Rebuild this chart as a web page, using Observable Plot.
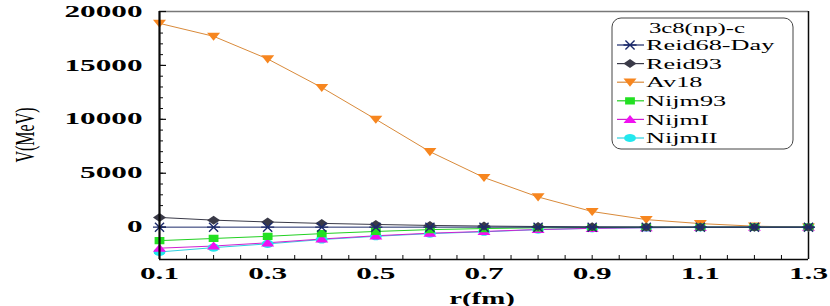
<!DOCTYPE html>
<html><head><meta charset="utf-8">
<script src="https://cdn.jsdelivr.net/npm/d3@7"></script>
<script src="https://cdn.jsdelivr.net/npm/@observablehq/plot@0.6"></script>
<style>html,body{margin:0;padding:0;background:#fff;}</style>
</head><body><div id="chart"></div>
<script>
// ---- data ----
const rValues = [0.1,0.2,0.3,0.4,0.5,0.6,0.7,0.8,0.9,1.0,1.1,1.2,1.3];
const reid68Day = [0,0,0,0,0,0,0,0,0,0,0,0,0];
const reid93 = [900,650,480,350,250,160,100,60,30,15,5,0,0];
const av18 = [18900,17700,15600,12950,10000,7000,4600,2800,1450,700,330,90,0];
const nijm93 = [-1250,-1050,-850,-600,-400,-230,-130,-60,-30,-10,0,0,0];
const nijmI = [-1950,-1750,-1450,-1100,-800,-560,-400,-220,-110,-50,-20,0,0];
const nijmII = [-2300,-1900,-1550,-1150,-850,-600,-430,-230,-110,-50,-20,0,0];
const seriesNames = ["Reid68-Day","Reid93","Av18","Nijm93","NijmI","NijmII"];
const legendTitle = "3c8(np)-c";
const xTickLabels = [0.1,0.3,0.5,0.7,0.9,1.1,1.3];
const yTickLabels = [0,5000,10000,15000,20000];
const xDomain = [0.1, 1.3];
const yDomain = [-3000, 20000];
const xLabel = "r(fm)";
const yLabel = "V(MeV)";

// ---- stretched marker symbols ----
function sym(shape){ return {draw(ctx,size){ const s=Math.sqrt(size/Math.PI); shape(ctx, s*1.45, s); }}; }
const triDown = sym((c,w,h)=>{c.moveTo(-w,-h*0.8);c.lineTo(w,-h*0.8);c.lineTo(0,h);c.closePath();});
const triUp = sym((c,w,h)=>{c.moveTo(-w,h*0.8);c.lineTo(w,h*0.8);c.lineTo(0,-h);c.closePath();});
const diamond = sym((c,w,h)=>{c.moveTo(-w,0);c.lineTo(0,-h);c.lineTo(w,0);c.lineTo(0,h);c.closePath();});
const square = sym((c,w,h)=>{c.rect(-w*0.75,-h*0.8,w*1.5,h*1.6);});
const ellipse = sym((c,w,h)=>{for(let i=0;i<20;i++){const a=i/20*2*Math.PI;const px=Math.cos(a)*w*0.9,py=Math.sin(a)*h*0.9; if(i===0)c.moveTo(px,py); else c.lineTo(px,py);} c.closePath();});
const star = sym((c,w,h)=>{c.moveTo(-w,0);c.lineTo(w,0);c.moveTo(-w*0.7,-h);c.lineTo(w*0.7,h);c.moveTo(-w*0.7,h);c.lineTo(w*0.7,-h);});

const styles = {
  "Reid68-Day": {values: reid68Day, fill: "none", stroke: "#1c2a6b", line: "#1c2a6b", symbol: star},
  "Reid93": {values: reid93, fill: "#3a3a48", stroke: "none", line: "#3a3a48", symbol: diamond},
  "Av18": {values: av18, fill: "#f7861f", stroke: "none", line: "#d98a3a", symbol: triDown},
  "Nijm93": {values: nijm93, fill: "#22e022", stroke: "none", line: "#22d022", symbol: square},
  "NijmI": {values: nijmI, fill: "#f010f0", stroke: "none", line: "#d020d0", symbol: triUp},
  "NijmII": {values: nijmII, fill: "#22e8ee", stroke: "none", line: "#30d0e0", symbol: ellipse}
};
const rows = name => rValues.map((r,i)=>({r, v: styles[name].values[i]}));
const drawOrder = ["Av18","NijmII","NijmI","Nijm93","Reid93","Reid68-Day"];

const lineMarks = drawOrder.map(n => Plot.line(rows(n), {x:"r", y:"v", stroke: styles[n].line, strokeWidth: 1}));
const dotMarks = drawOrder.map(n => n === "Reid68-Day"
  ? Plot.dot(rows(n), {x:"r", y:"v", r:4.5, symbol: styles[n].symbol, fill: "none", stroke: styles[n].stroke, strokeWidth: 1.4})
  : Plot.dot(rows(n), {x:"r", y:"v", r:4.5, symbol: styles[n].symbol, fill: styles[n].fill}));

const xMinor = d3.range(0.1, 1.3001, 0.05);
const yMinor = d3.range(-2000, 20001, 1000);

const plot = Plot.plot({
  width: 830, height: 306,
  marginLeft: 159, marginRight: 22, marginTop: 11, marginBottom: 47,
  style: {fontFamily: "'Liberation Serif', 'Times New Roman', serif", fontSize: "16px", fontWeight: "bold", color: "#000", background: "#fff"},
  x: {domain: xDomain},
  y: {domain: yDomain},
  marks: [
    Plot.ruleY([yDomain[1]], {stroke: "#787878", strokeWidth: 1.5}),
    Plot.ruleX([xDomain[1]], {stroke: "#0a0a0a", strokeWidth: 1.5}),
    Plot.tickX(xMinor, {x: d=>d, insetTop: 244, stroke: "#0a0a0a", strokeWidth: 1}),
    Plot.tickY(yMinor, {y: d=>d, insetRight: 645, stroke: "#0a0a0a", strokeWidth: 1}),
    Plot.tickY(yTickLabels, {y: d=>d, insetRight: 642, stroke: "#0a0a0a", strokeWidth: 1.2}),
    ...lineMarks,
    ...dotMarks,
    Plot.ruleX([xDomain[0]], {stroke: "#0a0a0a", strokeWidth: 2.2}),
    Plot.ruleY([yDomain[0]], {stroke: "#0a0a0a", strokeWidth: 1.6}),
    Plot.axisX(xTickLabels, {tickSize: 0, tickPadding: 8, tickFormat: d=>d.toFixed(1), label: null}),
    Plot.axisY(yTickLabels, {tickSize: 0, tickPadding: 17, tickFormat: d=>String(d), label: null})
  ]
});
document.getElementById("chart").appendChild(plot);

// stretch tick labels horizontally like the reference
plot.querySelectorAll('g[aria-label$="tick label"] text').forEach(t => {
  const L = t.getComputedTextLength();
  t.setAttribute("textLength", L*1.95);
  t.setAttribute("lengthAdjust", "spacingAndGlyphs");
});

const svg = d3.select(plot);
const font = "Liberation Serif, Times New Roman, serif";
// axis titles
svg.append("text").text(yLabel)
  .attr("transform", "translate(24,135) rotate(-90) scale(1,1.75)")
  .attr("text-anchor","middle").attr("dy","0.35em")
  .style("font-family",font).style("font-size","16px").style("font-weight","normal");
const xt = svg.append("text").text(xLabel)
  .attr("x", 482).attr("y", 298).attr("text-anchor","middle").attr("dy","0.35em")
  .style("font-family",font).style("font-size","16px").style("font-weight","bold");
xt.attr("textLength", xt.node().getComputedTextLength()*1.8).attr("lengthAdjust","spacingAndGlyphs");

// legend
const lg = svg.append("g");
lg.append("rect").attr("x",612).attr("y",18).attr("width",181).attr("height",131).attr("rx",9)
  .attr("fill","#fff").attr("stroke","#444").attr("stroke-width",1);
const tt = lg.append("text").text(legendTitle).attr("x",697).attr("y",28).attr("dy","0.35em")
  .attr("text-anchor","middle").style("font-family",font).style("font-size","15px").style("font-weight","normal");
tt.attr("textLength", tt.node().getComputedTextLength()*1.65).attr("lengthAdjust","spacingAndGlyphs");
seriesNames.forEach((n,i) => {
  const y = 45 + i*18.6;
  const s = styles[n];
  lg.append("path").attr("d", `M617,${y}H644`).attr("fill","none").attr("stroke",s.line).attr("stroke-width",1.2);
  lg.append("path").attr("d", d3.symbol(s.symbol, Math.PI*4.5*4.5)()).attr("transform",`translate(630,${y})`)
    .attr("fill", s.fill).attr("stroke", s.stroke).attr("stroke-width", s.stroke==="none"?0:1.4);
  const t = lg.append("text").text(n).attr("x",646).attr("y",y).attr("dy","0.35em")
    .attr("text-anchor","start")
    .style("font-family",font).style("font-size","15px").style("font-weight","normal");
  t.attr("textLength", t.node().getComputedTextLength()*1.75).attr("lengthAdjust","spacingAndGlyphs");
});
</script></body></html>
